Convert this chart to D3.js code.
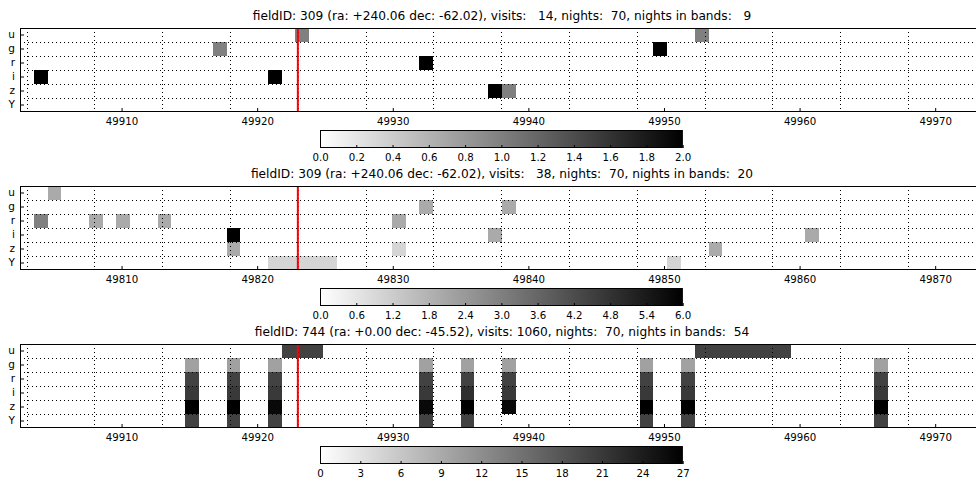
<!DOCTYPE html>
<html>
<head>
<meta charset="utf-8">
<script src="https://cdn.jsdelivr.net/npm/d3@7"></script>
<style>
  html, body { margin: 0; padding: 0; background: #fff; }
  svg { display: block; font-family: "DejaVu Sans", sans-serif; }
  text { white-space: pre; }
</style>
</head>
<body>
<svg id="chart" width="976" height="479"></svg>
<script>
// ---------------- DATA ----------------
const bands = ["u", "g", "r", "i", "z", "Y"];
const nightCount = 70;

const titles = [
  "fieldID: 309 (ra: +240.06 dec: -62.02), visits:   14, nights:  70, nights in bands:   9",
  "fieldID: 309 (ra: +240.06 dec: -62.02), visits:   38, nights:  70, nights in bands:  20",
  "fieldID: 744 (ra: +0.00 dec: -45.52), visits: 1060, nights:  70, nights in bands:  54"
];

// MJD range covered by the 70 night columns, per panel
const mjdDomain1 = [49902.51, 49973.6];
const mjdDomain2 = [49802.51, 49873.6];
const mjdDomain3 = [49902.51, 49973.6];

const xTicks1 = [49910, 49920, 49930, 49940, 49950, 49960, 49970];
const xTicks2 = [49810, 49820, 49830, 49840, 49850, 49860, 49870];
const xTicks3 = [49910, 49920, 49930, 49940, 49950, 49960, 49970];

const gridDays1 = [49903, 49908, 49913, 49918, 49923, 49928, 49933, 49938, 49943, 49948, 49953, 49958, 49963, 49968];
const gridDays2 = [49803, 49808, 49813, 49818, 49823, 49828, 49833, 49838, 49843, 49848, 49853, 49858, 49863, 49868];
const gridDays3 = [49903, 49908, 49913, 49918, 49923, 49928, 49933, 49938, 49943, 49948, 49953, 49958, 49963, 49968];

const markDay1 = 49923;
const markDay2 = 49823;
const markDay3 = 49923;

// Panel 1 cells (night index, band, visits)
const p1Nights = [1, 14, 18, 20, 29, 34, 35, 46, 49];
const p1Bands  = ["i", "g", "i", "u", "r", "z", "z", "g", "u"];
const p1Values = [2, 1, 2, 1, 2, 2, 1, 2, 1];

// Panel 2 cells
const p2Nights = [2, 1, 5, 7, 10, 15, 15, 18, 19, 20, 21, 22, 27, 27, 29, 34, 35, 47, 50, 57];
const p2Bands  = ["u", "r", "r", "r", "r", "i", "z", "Y", "Y", "Y", "Y", "Y", "r", "z", "g", "i", "g", "Y", "z", "i"];
const p2Values = [2, 3, 2, 2, 2, 6, 2, 1, 1, 1, 1, 1, 2, 1, 2, 2, 2, 1, 2, 2];

// Panel 3 cells
const p3Nights = [
  12, 12, 12, 12, 12,
  15, 15, 15, 15, 15,
  18, 18, 18, 18, 18,
  19, 20, 21,
  29, 29, 29, 29, 29,
  32, 32, 32, 32, 32,
  35, 35, 35, 35,
  45, 45, 45, 45, 45,
  48, 48, 48, 48, 48,
  49, 50, 51, 52, 53, 54, 55,
  62, 62, 62, 62, 62
];
const p3Bands = [
  "g", "r", "i", "z", "Y",
  "g", "r", "i", "z", "Y",
  "g", "r", "i", "z", "Y",
  "u", "u", "u",
  "g", "r", "i", "z", "Y",
  "g", "r", "i", "z", "Y",
  "g", "r", "i", "z",
  "g", "r", "i", "z", "Y",
  "g", "r", "i", "z", "Y",
  "u", "u", "u", "u", "u", "u", "u",
  "g", "r", "i", "z", "Y"
];
const p3Values = [
  10, 20, 21, 27, 20,
  10, 20, 21, 27, 20,
  10, 20, 21, 26, 20,
  20, 20, 20,
  10, 20, 21, 26, 20,
  10, 20, 22, 27, 20,
  10, 20, 21, 26,
  10, 20, 21, 27, 20,
  10, 20, 21, 27, 20,
  20, 20, 20, 20, 20, 20, 20,
  10, 20, 21, 27, 20
];

// Colorbar ticks
const cbTicks1 = [0, 0.2, 0.4, 0.6, 0.8, 1.0, 1.2, 1.4, 1.6, 1.8, 2.0];
const cbLabels1 = ["0.0", "0.2", "0.4", "0.6", "0.8", "1.0", "1.2", "1.4", "1.6", "1.8", "2.0"];
const cbTicks2 = [0, 0.6, 1.2, 1.8, 2.4, 3.0, 3.6, 4.2, 4.8, 5.4, 6.0];
const cbLabels2 = ["0.0", "0.6", "1.2", "1.8", "2.4", "3.0", "3.6", "4.2", "4.8", "5.4", "6.0"];
const cbTicks3 = [0, 3, 6, 9, 12, 15, 18, 21, 24, 27];
const cbLabels3 = ["0", "3", "6", "9", "12", "15", "18", "21", "24", "27"];

// ---------------- LAYOUT ----------------
const svg = d3.select("#chart");
const axLeft = 20, axRight = 984, axH = 84;
const panelTops = [28, 186, 344];
const cbLeft = 320, cbRight = 682.7, cbOffset = 102, cbH = 18;

const panels = [
  { title: titles[0], dom: mjdDomain1, ticks: xTicks1, grid: gridDays1, mark: markDay1,
    nights: p1Nights, bandsArr: p1Bands, values: p1Values, cbT: cbTicks1, cbL: cbLabels1 },
  { title: titles[1], dom: mjdDomain2, ticks: xTicks2, grid: gridDays2, mark: markDay2,
    nights: p2Nights, bandsArr: p2Bands, values: p2Values, cbT: cbTicks2, cbL: cbLabels2 },
  { title: titles[2], dom: mjdDomain3, ticks: xTicks3, grid: gridDays3, mark: markDay3,
    nights: p3Nights, bandsArr: p3Bands, values: p3Values, cbT: cbTicks3, cbL: cbLabels3 }
];

// gradient for colorbar (gray_r)
const defs = svg.append("defs");
const grad = defs.append("linearGradient").attr("id", "grayr")
  .attr("x1", "0%").attr("x2", "100%").attr("y1", "0%").attr("y2", "0%");
grad.append("stop").attr("offset", "0%").attr("stop-color", "#ffffff");
grad.append("stop").attr("offset", "100%").attr("stop-color", "#000000");

panels.forEach((p, pi) => {
  const top = panelTops[pi];
  const bottom = top + axH;
  const g = svg.append("g");

  const x = d3.scaleLinear().domain(p.dom).range([axLeft, axRight]);
  const col = d3.scaleLinear().domain([0, nightCount]).range([axLeft, axRight]);
  const y = d3.scaleBand().domain(bands).range([top, bottom]).padding(0);
  const vmax = p.cbT[p.cbT.length - 1];
  const color = d3.scaleLinear().domain([0, vmax]).range(["#ffffff", "#000000"]).clamp(true);

  g.append("rect").attr("x", axLeft).attr("y", top).attr("width", axRight - axLeft).attr("height", axH)
    .attr("fill", "#fff");

  const cells = p.nights.map((n, i) => ({ n, b: p.bandsArr[i], v: p.values[i] }));
  g.selectAll("rect.cell").data(cells).enter().append("rect")
    .attr("class", "cell")
    .attr("x", d => col(d.n))
    .attr("y", d => y(d.b))
    .attr("width", d => col(d.n + 1) - col(d.n))
    .attr("height", y.bandwidth())
    .attr("fill", d => color(d.v))
    .attr("shape-rendering", "crispEdges");

  g.selectAll("line.vgrid").data(p.grid).enter().append("line")
    .attr("x1", d => Math.round(x(d)) + 0.5).attr("x2", d => Math.round(x(d)) + 0.5)
    .attr("y1", top).attr("y2", bottom)
    .attr("stroke", "#000").attr("stroke-width", 1).attr("stroke-dasharray", "1,3");
  const bounds = bands.slice(1).map(b => y(b));
  g.selectAll("line.hgrid").data(bounds).enter().append("line")
    .attr("x1", axLeft).attr("x2", axRight)
    .attr("y1", d => Math.round(d) + 0.5).attr("y2", d => Math.round(d) + 0.5)
    .attr("stroke", "#000").attr("stroke-width", 1).attr("stroke-dasharray", "1,3");

  g.append("line")
    .attr("x1", x(p.mark)).attr("x2", x(p.mark))
    .attr("y1", top).attr("y2", bottom)
    .attr("stroke", "#ff0000").attr("stroke-width", 2);

  const xAxis = d3.axisBottom(x).tickValues(p.ticks).tickFormat(d3.format("d"))
    .tickSizeInner(-4).tickSizeOuter(0).tickPadding(6);
  const xg = g.append("g").attr("transform", `translate(0,${bottom})`).call(xAxis);
  xg.select(".domain").remove();
  xg.selectAll("text").attr("font-size", 10.2).attr("fill", "#000").attr("font-family", "DejaVu Sans");
  xg.selectAll("line").attr("stroke", "#000");

  const yAxis = d3.axisLeft(y).tickSizeInner(-4).tickSizeOuter(0).tickPadding(5);
  const yg = g.append("g").attr("transform", `translate(${axLeft},0)`).call(yAxis);
  yg.select(".domain").remove();
  yg.selectAll("text").attr("font-size", 10.5).attr("fill", "#000").attr("font-family", "DejaVu Sans");
  yg.selectAll("line").attr("stroke", "#000");

  g.append("rect").attr("x", axLeft + 0.5).attr("y", top + 0.5)
    .attr("width", axRight - axLeft - 1).attr("height", axH - 1)
    .attr("fill", "none").attr("stroke", "#000").attr("stroke-width", 1);

  g.append("text").attr("x", (axLeft + axRight) / 2).attr("y", top - 8)
    .attr("text-anchor", "middle").attr("font-size", 12.2).attr("fill", "#000")
    .text(p.title);

  const cbTop = top + cbOffset;
  g.append("rect").attr("x", cbLeft).attr("y", cbTop).attr("width", cbRight - cbLeft).attr("height", cbH)
    .attr("fill", "url(#grayr)");
  const cbx = d3.scaleLinear().domain([0, vmax]).range([cbLeft, cbRight]);
  const cbAxis = d3.axisBottom(cbx).tickValues(p.cbT).tickFormat((d, i) => p.cbL[i])
    .tickSizeInner(-3).tickSizeOuter(0).tickPadding(6);
  const cg = g.append("g").attr("transform", `translate(0,${cbTop + cbH})`).call(cbAxis);
  cg.select(".domain").remove();
  cg.selectAll("text").attr("font-size", 10.2).attr("fill", "#000").attr("font-family", "DejaVu Sans");
  cg.selectAll("line").attr("stroke", "#000");
  g.append("rect").attr("x", cbLeft + 0.5).attr("y", cbTop + 0.5)
    .attr("width", cbRight - cbLeft - 1).attr("height", cbH - 1)
    .attr("fill", "none").attr("stroke", "#000").attr("stroke-width", 1);
});
</script>
</body>
</html>
